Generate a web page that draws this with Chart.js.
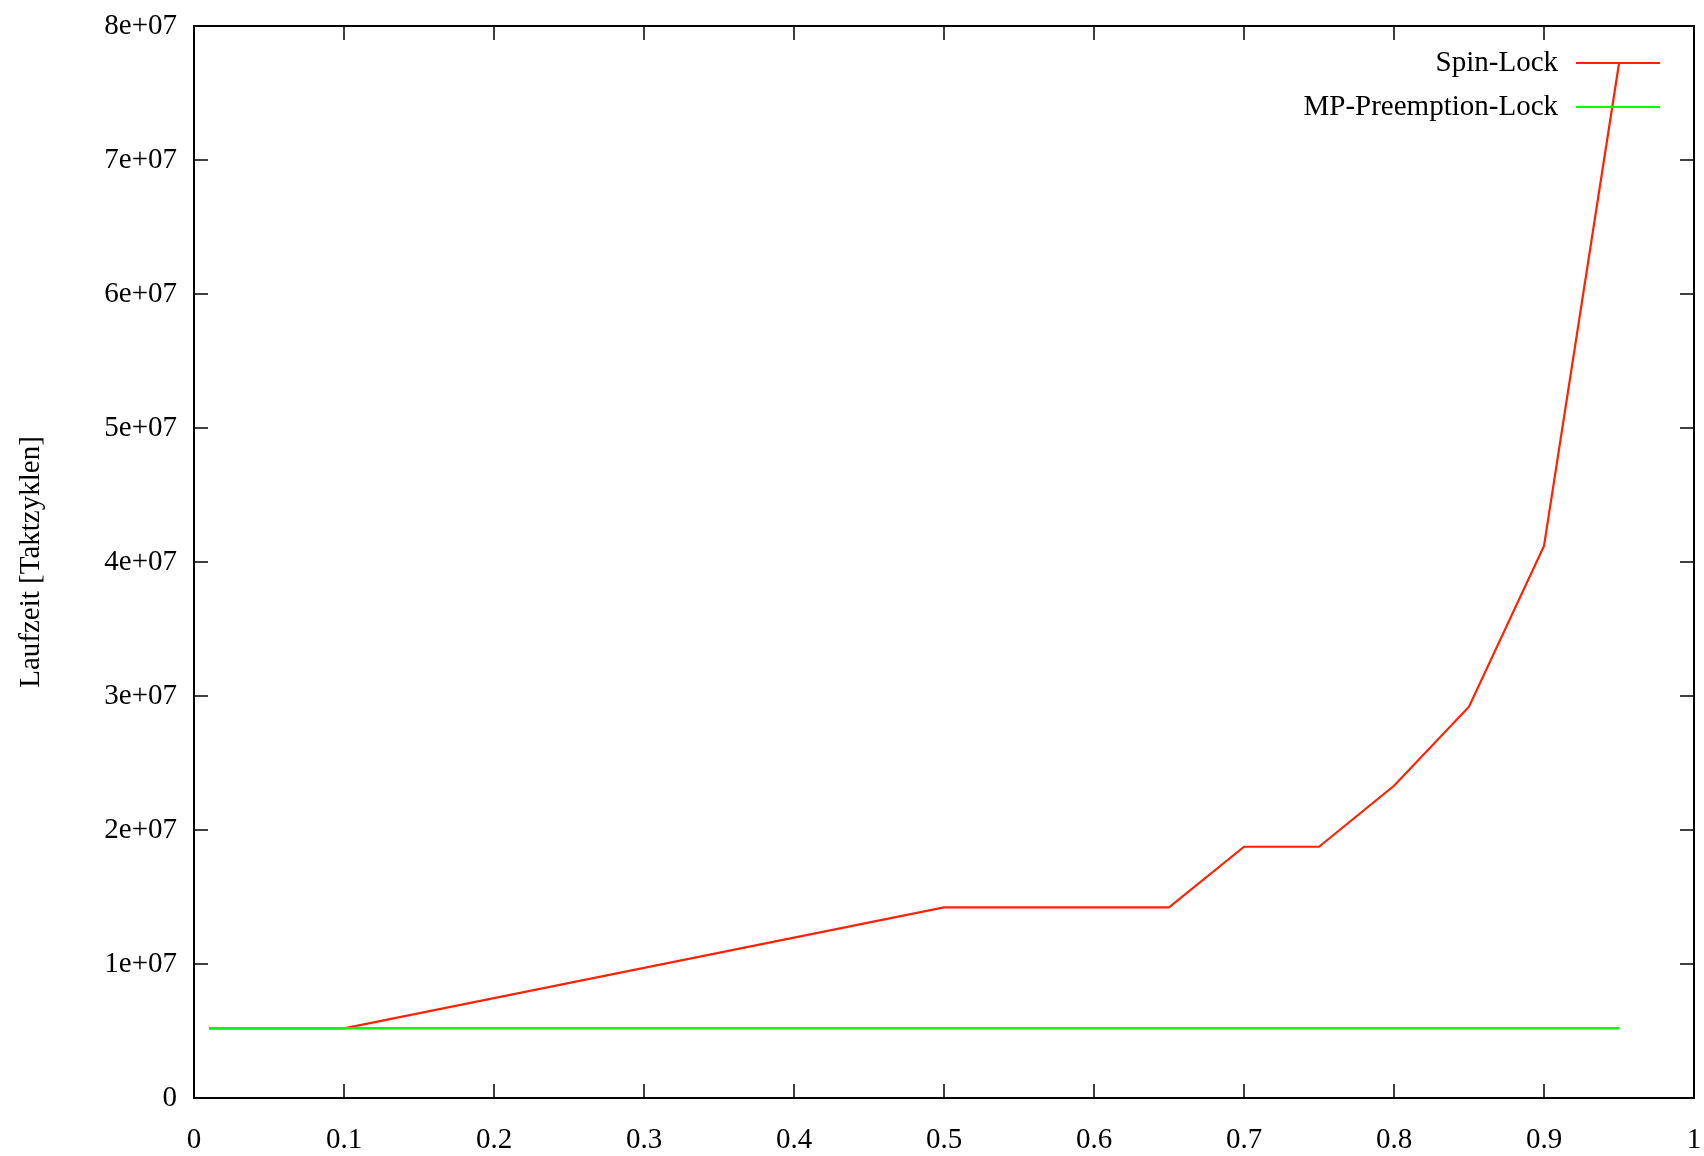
<!DOCTYPE html>
<html>
<head>
<meta charset="utf-8">
<script src="https://cdn.jsdelivr.net/npm/chart.js@4.4.1/dist/chart.umd.min.js"></script>
<style>
    html, body { margin: 0; padding: 0; background: #fff; overflow: hidden; }
    #wrap { width: 1704px; height: 1156px; }
    #lock-chart { display: block; width: 1704px; height: 1156px; }
</style>
</head>
<body>
<div id="wrap"><canvas id="lock-chart" width="1704" height="1156"></canvas></div>
<script>
// --- Data ---
const loadValues = [0.01, 0.1, 0.5, 0.65, 0.7, 0.75, 0.8, 0.85, 0.9, 0.95];
const spinLock = [5.2e6, 5.2e6, 1.423e7, 1.423e7, 1.875e7, 1.875e7, 2.33e7, 2.92e7, 4.12e7, 7.72e7];
const mpPreemptionLock = [5.2e6, 5.2e6, 5.2e6, 5.2e6, 5.2e6, 5.2e6, 5.2e6, 5.2e6, 5.2e6, 5.2e6];
const seriesNames = ['Spin-Lock', 'MP-Preemption-Lock'];
const xTicks = [0, 0.1, 0.2, 0.3, 0.4, 0.5, 0.6, 0.7, 0.8, 0.9, 1];
const yTicks = [0, 1e7, 2e7, 3e7, 4e7, 5e7, 6e7, 7e7, 8e7];
const yTitle = 'Laufzeit [Taktzyklen]';

const FONT = 'Liberation Serif, Times New Roman, serif';
const FONT_SIZE = 29;
const RED = '#ff2200';
const GREEN = '#00ff00';

const toPoints = (ys) => loadValues.map((x, i) => ({ x: x, y: ys[i] }));

// gnuplot style frame with inward ticks on all four sides
const framePlugin = {
    id: 'frame',
    afterDraw(chart) {
        const { ctx, chartArea: a, scales } = chart;
        const len = 14;
        ctx.save();
        ctx.strokeStyle = '#000';
        ctx.lineWidth = 1.5;
        xTicks.forEach(v => {
            const px = scales.x.getPixelForValue(v);
            ctx.beginPath();
            ctx.moveTo(px, a.bottom); ctx.lineTo(px, a.bottom - len);
            ctx.moveTo(px, a.top); ctx.lineTo(px, a.top + len);
            ctx.stroke();
        });
        yTicks.forEach(v => {
            const py = scales.y.getPixelForValue(v);
            ctx.beginPath();
            ctx.moveTo(a.left, py); ctx.lineTo(a.left + len, py);
            ctx.moveTo(a.right, py); ctx.lineTo(a.right - len, py);
            ctx.stroke();
        });
        ctx.lineWidth = 2;
        ctx.strokeRect(a.left, a.top, a.right - a.left, a.bottom - a.top);
        ctx.restore();
    }
};

// key in the top right corner: text right-aligned, line sample after it
const keyPlugin = {
    id: 'key',
    afterDraw(chart) {
        const { ctx, chartArea: a } = chart;
        ctx.save();
        ctx.font = FONT_SIZE + 'px ' + FONT;
        ctx.textAlign = 'right';
        ctx.textBaseline = 'middle';
        chart.data.datasets.forEach((ds, i) => {
            const y = a.top + 37 + i * 44;
            ctx.fillStyle = '#000';
            ctx.fillText(ds.label, a.right - 136, y);
            ctx.strokeStyle = ds.borderColor;
            ctx.lineWidth = 2.2;
            ctx.beginPath();
            ctx.moveTo(a.right - 118, y);
            ctx.lineTo(a.right - 34, y);
            ctx.stroke();
        });
        ctx.restore();
    }
};

const ctx = document.getElementById('lock-chart').getContext('2d');
const chart = new Chart(ctx, {
    type: 'line',
    data: {
        datasets: [
            { label: seriesNames[0], data: toPoints(spinLock), borderColor: RED, borderWidth: 2.2, pointRadius: 0, tension: 0, order: 1 },
            { label: seriesNames[1], data: toPoints(mpPreemptionLock), borderColor: GREEN, borderWidth: 2.5, pointRadius: 0, tension: 0, order: 0 }
        ]
    },
    options: {
        responsive: false,
        maintainAspectRatio: false,
        animation: false,
        devicePixelRatio: 1,
        layout: { padding: { top: 26, right: 10, left: 0, bottom: 0 } },
        plugins: {
            legend: { display: false },
            tooltip: { enabled: false }
        },
        scales: {
            x: {
                type: 'linear',
                min: 0,
                max: 1,
                afterBuildTicks: (scale) => { scale.ticks = xTicks.map(v => ({ value: v })); },
                afterFit: (scale) => {
                    scale.height = 58;
                    scale.paddingLeft = 0;
                    scale.paddingRight = 0;
                },
                grid: { display: false, drawTicks: false },
                border: { display: false },
                ticks: {
                    padding: 25,
                    color: '#000',
                    font: { family: FONT, size: FONT_SIZE },
                    callback: (v) => String(Math.round(v * 10) / 10)
                }
            },
            y: {
                type: 'linear',
                min: 0,
                max: 8e7,
                afterBuildTicks: (scale) => { scale.ticks = yTicks.map(v => ({ value: v })); },
                afterFit: (scale) => {
                    scale.width = 194;
                    scale.paddingTop = 0;
                    scale.paddingBottom = 0;
                },
                grid: { display: false, drawTicks: false },
                border: { display: false },
                title: {
                    display: true,
                    text: yTitle,
                    color: '#000',
                    font: { family: FONT, size: FONT_SIZE },
                    padding: { top: 14, bottom: 0 }
                },
                ticks: {
                    padding: 17,
                    color: '#000',
                    font: { family: FONT, size: FONT_SIZE },
                    callback: (v) => v === 0 ? '0' : (v / 1e7) + 'e+07'
                }
            }
        }
    },
    plugins: [framePlugin, keyPlugin]
});
</script>
</body>
</html>
